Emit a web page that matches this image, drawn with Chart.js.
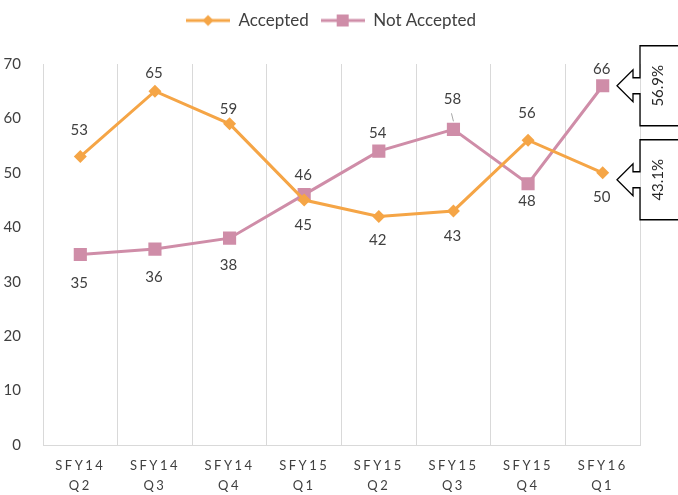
<!DOCTYPE html>
<html><head><meta charset="utf-8">
<script src="https://cdn.jsdelivr.net/npm/chart.js@4/dist/chart.umd.min.js"></script>
<style>html,body{margin:0;padding:0;background:#fff}canvas{display:block}</style>
</head><body><canvas id="c" width="678" height="495"></canvas>
<script>
const categories = ['SFY14 Q2','SFY14 Q3','SFY14 Q4','SFY15 Q1','SFY15 Q2','SFY15 Q3','SFY15 Q4','SFY16 Q1'];
const accepted = [53,65,59,45,42,43,56,50];
const notAccepted = [35,36,38,46,54,58,48,66];
const seriesNames = ['Accepted','Not Accepted'];
const yMin = 0, yMax = 70, yStep = 10;
// vertical offsets of value labels (style only)
const acceptedLabelOffsets = [-26,-18,-15,25,24,25,-27,24];
const notAcceptedLabelOffsets = [29,28,27,-19,-18,-30,17,-17];

const ORANGE = '#F5A546';
const PINK = '#CF8DA8';
const FONT = 'Lato, "Open Sans", sans-serif';

function legendIcon(color, style) {
  const cv = document.createElement('canvas');
  cv.width = 44; cv.height = 14;
  const g = cv.getContext('2d');
  g.strokeStyle = color; g.lineWidth = 3;
  g.beginPath(); g.moveTo(0, 7); g.lineTo(44, 7); g.stroke();
  g.fillStyle = color;
  if (style === 'diamond') {
    g.beginPath(); g.moveTo(22, 1.5); g.lineTo(27.5, 7); g.lineTo(22, 12.5); g.lineTo(16.5, 7); g.closePath(); g.fill();
  } else {
    g.fillRect(16, 1, 12, 12);
  }
  return cv;
}
const icons = [legendIcon(ORANGE, 'diamond'), legendIcon(PINK, 'square')];

const valueLabels = {
  id: 'valueLabels',
  afterDatasetsDraw(chart) {
    const ctx = chart.ctx;
    const offs = [acceptedLabelOffsets, notAcceptedLabelOffsets];
    ctx.save();
    ctx.font = '15px ' + FONT;
    ctx.fillStyle = '#404040';
    ctx.textAlign = 'center';
    ctx.textBaseline = 'middle';
    chart.data.datasets.forEach((ds, di) => {
      const meta = chart.getDatasetMeta(di);
      meta.data.forEach((pt, i) => {
        const o = offs[di][i];
        ctx.fillText(String(ds.data[i]), pt.x - 1, pt.y + o);
        if (Math.abs(o) >= 30) {
          ctx.save();
          ctx.strokeStyle = '#a6a6a6'; ctx.lineWidth = 1;
          ctx.beginPath(); ctx.moveTo(pt.x - 2, pt.y + o + 14); ctx.lineTo(pt.x, pt.y - 8); ctx.stroke();
          ctx.restore();
        }
      });
    });
    ctx.restore();
  }
};

const callouts = {
  id: 'callouts',
  afterDraw(chart) {
    const ctx = chart.ctx;
    const ys = chart.scales.y;
    const L = chart.chartArea.right;
    const last = categories.length - 1;
    const total = accepted[last] + notAccepted[last];
    const shares = [notAccepted[last] / total, accepted[last] / total];
    const h = 80, gap = 14;
    const top1 = ys.getPixelForValue(notAccepted[last]) - h / 2;
    const tops = [top1, top1 + h + gap];
    ctx.save();
    ctx.strokeStyle = '#000'; ctx.lineWidth = 1.3;
    tops.forEach((T, k) => {
      const B = T + h, C = T + h / 2;
      ctx.beginPath();
      ctx.moveTo(L + 80, T); ctx.lineTo(L, T); ctx.lineTo(L, C - 8);
      ctx.lineTo(L - 7, C - 8); ctx.lineTo(L - 7, C - 16); ctx.lineTo(L - 23, C);
      ctx.lineTo(L - 7, C + 16); ctx.lineTo(L - 7, C + 8); ctx.lineTo(L, C + 8);
      ctx.lineTo(L, B); ctx.lineTo(L + 80, B);
      ctx.stroke();
      ctx.save();
      ctx.translate(L + 18, C);
      ctx.rotate(-Math.PI / 2);
      ctx.font = '15px ' + FONT;
      ctx.fillStyle = '#262626';
      ctx.textAlign = 'center'; ctx.textBaseline = 'middle';
      ctx.fillText((shares[k] * 100).toFixed(1) + '%', 0, 0);
      ctx.restore();
    });
    ctx.restore();
  }
};

const spacing = {
  id: 'spacing',
  afterInit(chart) {
    const lg = chart.legend;
    const origFit = lg.fit;
    lg.fit = function () { origFit.call(this); this.height = 64; };
    const origDraw = lg.draw;
    lg.draw = function () {
      const ctx = this.ctx;
      ctx.save();
      ctx.translate(11, 0);
      origDraw.call(this);
      ctx.restore();
    };
  },
  afterLayout(chart) {
    const xs = chart.scales.x;
    if (!xs._patched) {
      const orig = xs.drawLabels;
      xs.drawLabels = function (area) {
        const ctx = this.ctx;
        ctx.save();
        ctx.letterSpacing = '2.5px';
        orig.call(this, area);
        ctx.restore();
      };
      xs._patched = true;
    }
  }
};

new Chart(document.getElementById('c'), {
  type: 'line',
  data: {
    labels: categories,
    datasets: [
      { label: seriesNames[0], data: accepted, borderColor: ORANGE, backgroundColor: ORANGE,
        borderWidth: 3, pointBorderWidth: 0, pointStyle: 'rectRot', pointRadius: 6.5, pointHoverRadius: 6.5, tension: 0 },
      { label: seriesNames[1], data: notAccepted, borderColor: PINK, backgroundColor: PINK,
        borderWidth: 3, pointBorderWidth: 0, pointStyle: 'rect', pointRadius: 9.3, pointHoverRadius: 9.3, tension: 0 }
    ]
  },
  options: {
    responsive: false,
    animation: false,
    devicePixelRatio: 1,
    layout: { padding: { left: 0, right: 38, top: 0, bottom: 0 } },
    plugins: {
      tooltip: { enabled: false },
      legend: {
        position: 'top',
        labels: {
          usePointStyle: true,
          pointStyleWidth: 44,
          padding: 12,
          color: '#404040',
          font: { family: FONT, size: 17 },
          generateLabels(chart) {
            return chart.data.datasets.map((ds, i) => ({
              text: ds.label, pointStyle: icons[i], fillStyle: ds.borderColor,
              strokeStyle: ds.borderColor, lineWidth: 0, datasetIndex: i, hidden: false, fontColor: '#404040'
            }));
          }
        }
      }
    },
    scales: {
      x: {
        offset: true,
        grid: { display: true, offset: true, color: '#d9d9d9', lineWidth: 1, drawTicks: false },
        border: { display: true, color: '#d9d9d9', width: 1 },
        ticks: {
          color: '#404040', padding: 10, maxRotation: 0, autoSkip: false,
          font: { family: FONT, size: 13, lineHeight: 1.6 },
          callback(v, i) { return categories[i].split(' '); }
        },
        afterFit(s) { s.height = 50; }
      },
      y: {
        min: yMin, max: yMax,
        grid: { display: false },
        border: { display: false },
        ticks: { stepSize: yStep, color: '#404040', padding: 14, font: { family: FONT, size: 15 } },
        afterFit(s) { s.width = 43; }
      }
    }
  },
  plugins: [valueLabels, callouts, spacing]
});
</script>
</body></html>
